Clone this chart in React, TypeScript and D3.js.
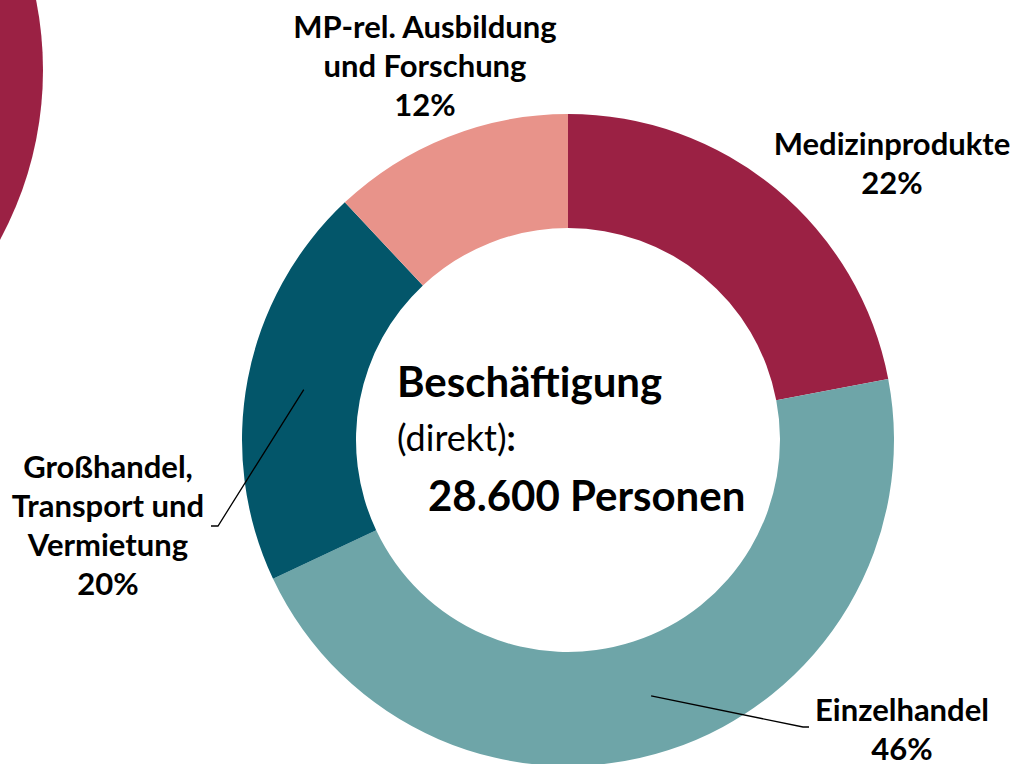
import React from "react";
import * as d3 from "d3";

const categories = [
  "Medizinprodukte",
  "Einzelhandel",
  "Großhandel, Transport und Vermietung",
  "MP-rel. Ausbildung und Forschung",
];
const shares = [22, 46, 20, 12];
const sliceColors = ["#9B2144", "#6EA5A8", "#03566A", "#E8938A"];
const labelLines = [
  ["Medizinprodukte", "22%"],
  ["Einzelhandel", "46%"],
  ["Großhandel,", "Transport und", "Vermietung", "20%"],
  ["MP-rel. Ausbildung", "und Forschung", "12%"],
];
const centerTitle = "Beschäftigung";
const centerSub = "(direkt)";
const centerValue = "28.600 Personen";

const W = 1017;
const H = 764;
const cx = 568;
const cy = 440;
const outerR = 326;
const innerR = 212;
const FONT = "Lato, 'Noto Sans', sans-serif";

// label anchor positions (center x, first baseline y)
const labelPos: [number, number][] = [
  [892, 155],
  [902, 721],
  [108, 478],
  [425, 38],
];
// leader line end points (bend, end) for labels that have one
const leaders: Record<number, [number, number][]> = {
  1: [[803, 727], [809, 727]],
  2: [[218, 526], [211, 526]],
};

export default function App() {
  const pie = d3
    .pie<number>()
    .sort(null)
    .value((d) => d);
  const arcs = pie(shares);
  const arc = d3.arc<d3.PieArcDatum<number>>().innerRadius(innerR).outerRadius(outerR);
  const lineGen = d3.line();

  return (
    <svg
      width={W}
      height={H}
      style={{ position: "absolute", left: 0, top: 0, background: "#fff" }}
    >
      <circle cx={-314} cy={70} r={357} fill={sliceColors[0]} />
      <g transform={`translate(${cx},${cy})`}>
        {arcs.map((a, i) => (
          <path key={categories[i]} d={arc(a) || ""} fill={sliceColors[i]} />
        ))}
      </g>
      {arcs.map((a, i) => {
        const pts = leaders[i];
        if (!pts) return null;
        const [mx, my] = arc.centroid(a);
        const all: [number, number][] = [[cx + mx, cy + my], ...pts];
        return (
          <path key={"l" + i} d={lineGen(all) || ""} fill="none" stroke="#000" strokeWidth={1.3} />
        );
      })}
      {labelLines.map((lines, i) => (
        <text
          key={"t" + i}
          x={labelPos[i][0]}
          y={labelPos[i][1]}
          textAnchor="middle"
          fontFamily={FONT}
          fontWeight={700}
          fontSize={31}
          fill="#000"
        >
          {lines.map((ln, j) => (
            <tspan key={j} x={labelPos[i][0]} dy={j === 0 ? 0 : 39}>
              {ln}
            </tspan>
          ))}
        </text>
      ))}
      <text x={397} y={397} fontFamily={FONT} fontWeight={700} fontSize={42} fill="#000">
        {centerTitle}
      </text>
      <text x={397} y={451} fontFamily={FONT} fontSize={36} fill="#000">
        {centerSub}
        <tspan fontWeight={700}>:</tspan>
      </text>
      <text x={428} y={511} fontFamily={FONT} fontWeight={700} fontSize={42} fill="#000">
        {centerValue}
      </text>
    </svg>
  );
}
